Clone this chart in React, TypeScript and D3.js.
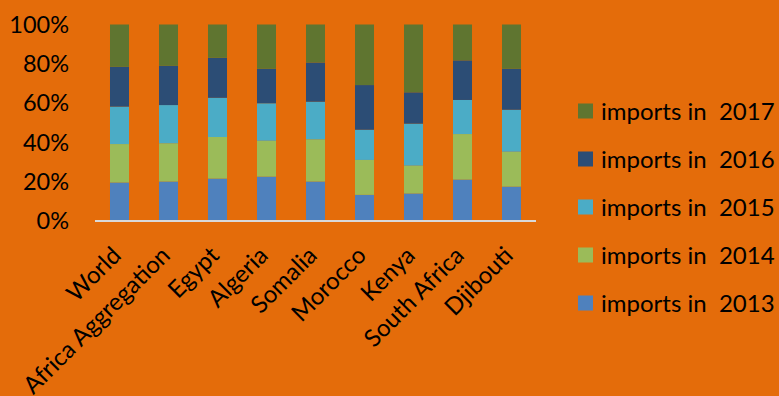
import React from "react";
import * as d3 from "d3";

// Share of imports per year for each country / aggregate (percent of 2013–2017 total)
const categories = [
  "World",
  "Africa Aggregation",
  "Egypt",
  "Algeria",
  "Somalia",
  "Morocco",
  "Kenya",
  "South Africa",
  "Djibouti",
];
const imports2013 = [19.4, 19.9, 21.4, 22.4, 19.9, 13.1, 13.8, 20.9, 17.3];
const imports2014 = [19.6, 19.5, 21.2, 18.3, 21.5, 17.8, 14.2, 23.2, 17.8];
const imports2015 = [19.1, 19.5, 20.0, 19.1, 19.2, 15.4, 21.4, 17.4, 21.4];
const imports2016 = [20.3, 20.0, 20.4, 17.6, 20.0, 22.8, 16.0, 20.2, 20.9];
const imports2017 = [21.6, 21.1, 17.0, 22.6, 19.4, 30.9, 34.6, 18.3, 22.6];

const seriesNames = [
  "imports in  2013",
  "imports in  2014",
  "imports in  2015",
  "imports in  2016",
  "imports in  2017",
];
const seriesValues = [imports2013, imports2014, imports2015, imports2016, imports2017];
const seriesColors = ["#4F81BD", "#9BBB59", "#4BACC6", "#2C4D75", "#5F7530"];
const yTicks = [0, 20, 40, 60, 80, 100];

const W = 779;
const H = 396;
const FONT = "Lato, 'Open Sans', sans-serif";
const FS_TICK = 23.5;
const FS = 24;

export default function App() {
  const rows = categories.map((c, i) => {
    const r: Record<string, number | string> = { category: c };
    seriesNames.forEach((s, k) => (r[s] = seriesValues[k][i]));
    return r;
  });

  const stacked = d3
    .stack<Record<string, number | string>>()
    .keys(seriesNames)
    .value((d, key) => d[key] as number)
    .offset(d3.stackOffsetExpand)(rows);

  const x = d3
    .scaleBand<string>()
    .domain(categories)
    .range([95, 536])
    .paddingInner(0.612)
    .paddingOuter(0.306);
  const y = d3.scaleLinear().domain([0, 1]).range([220.5, 24.5]);
  const axisY = 221;

  const legendOrder = [...seriesNames.keys()].reverse();

  return (
    <svg
      width={W}
      height={H}
      style={{ position: "fixed", left: 0, top: 0, display: "block" }}
      fontFamily={FONT}
    >
      <rect x={0} y={0} width={W} height={H} fill="#E46C0A" />

      {/* stacked 100% columns */}
      {stacked.map((layer, k) => (
        <g key={layer.key} fill={seriesColors[k]}>
          {layer.map((seg, i) => (
            <rect
              key={i}
              x={x(categories[i])}
              y={y(seg[1])}
              width={x.bandwidth()}
              height={y(seg[0]) - y(seg[1])}
            />
          ))}
        </g>
      ))}

      {/* category axis line */}
      <line x1={95} x2={536} y1={axisY} y2={axisY} stroke="#D9D9D9" strokeWidth={2} />

      {/* value axis labels */}
      {yTicks.map((t) => (
        <text
          key={t}
          x={69}
          y={y(t / 100)}
          dy="0.36em"
          textAnchor="end"
          fontSize={FS_TICK}
          fill="#000"
        >
          {d3.format("d")(t)}%
        </text>
      ))}

      {/* rotated category labels */}
      {categories.map((c) => {
        const cx = (x(c) as number) + x.bandwidth() / 2;
        const px = cx + 3;
        const py = 257;
        return (
          <text
            key={c}
            x={px}
            y={py}
            textAnchor="end"
            fontSize={FS}
            fill="#000"
            transform={`rotate(-45 ${px} ${py})`}
          >
            {c}
          </text>
        );
      })}

      {/* legend */}
      {legendOrder.map((k, i) => {
        const cy = 111 + i * 48;
        return (
          <g key={seriesNames[k]}>
            <rect x={578} y={cy - 7.5} width={15} height={15} fill={seriesColors[k]} />
            <text
              x={601}
              y={cy}
              dy="0.36em"
              fontSize={FS}
              fill="#000"
              style={{ whiteSpace: "pre" }}
            >
              {seriesNames[k]}
            </text>
          </g>
        );
      })}
    </svg>
  );
}
